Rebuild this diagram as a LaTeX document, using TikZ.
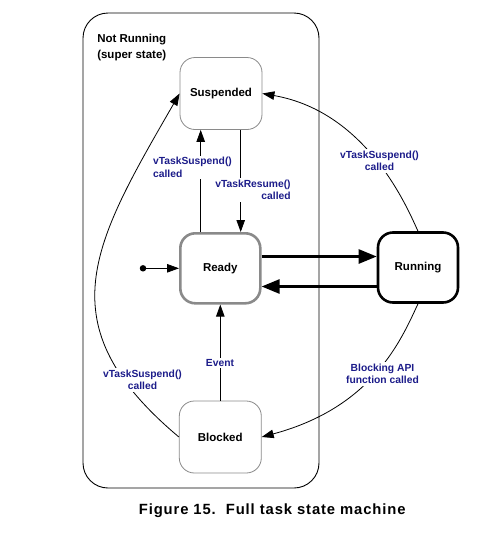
\documentclass[tikz,border=0pt]{standalone}
\usepackage{fontspec}
\setmainfont{Liberation Sans}
\usepackage{xcolor}
\usepackage{tikz}
\usetikzlibrary{arrows.meta, positioning, calc}
\definecolor{labelblue}{HTML}{1C1C8A}
\definecolor{stategray}{HTML}{8A8A8A}

\begin{document}
\begin{tikzpicture}[
    x=1pt, y=-1pt,
    state/.style={
        rectangle,
        rounded corners=15pt,
        draw=stategray,
        fill=white,
        line width=0.8pt,
        minimum width=82pt,
        minimum height=72pt,
        font=\fontsize{11.5}{14}\selectfont\bfseries
    },
    boldstate/.style={
        state,
        line width=2.6pt,
        minimum width=80pt,
        minimum height=70pt
    },
    lbl/.style={
        fill=white,
        inner sep=1.5pt,
        text=labelblue,
        font=\fontsize{10.3}{12.6}\selectfont\bfseries
    },
    thinarrow/.style={
        -{Triangle[length=12pt, width=8.5pt]},
        line width=0.8pt,
        draw=black
    },
    thickarrow/.style={
        -{Triangle[length=18pt, width=14pt]},
        line width=2.6pt,
        draw=black
    }
]
\useasboundingbox (0,0) rectangle (484,539);

% super state
\node[rectangle, rounded corners=25pt, draw=black, line width=0.9pt,
      minimum width=236pt, minimum height=475pt] (super) at (201,250.5) {};
\node[anchor=north west, inner sep=0pt, align=left,
      font=\fontsize{11.5}{15.5}\selectfont\bfseries]
      (title) at ([xshift=14.5pt,yshift=-21.5pt]super.north west) {Not Running\\(super state)};

% states
\node[state] (sus) at (221,93.5) {Suspended};
\node[boldstate, draw=stategray] (rdy) at (220.3,268.3) {Ready};
\node[boldstate, draw=black] (run) at (418,267.5) {Running};
\node[state] (blk) at (220.3,437) {Blocked};
\node[circle, fill=black, inner sep=0pt, minimum size=6.5pt] (init) at (143,268.3) {};

% transitions
\draw[thinarrow] (init) -- (rdy);
\draw[thinarrow] ([xshift=-19.6pt]rdy.north) -- ([xshift=-20.3pt]sus.south);
\draw[thinarrow] ([xshift=19.7pt]sus.south) -- ([xshift=20.4pt]rdy.north);
\draw[thinarrow] (blk.north) -- (rdy.south);
\draw[thickarrow] ([yshift=11.8pt]rdy.east) -- ([yshift=11pt]run.west);
\draw[thickarrow] ([yshift=-19pt]run.west) -- ([yshift=-18.2pt]rdy.east);
\draw[thinarrow] (run.north) to[out=115, in=-10, out distance=22pt, in distance=108pt] (sus.east);
\draw[thinarrow] (run.south) to[out=245, in=15, out distance=40pt, in distance=115pt] (blk.east);
\draw[thinarrow] (blk.west) to[out=140, in=-120, looseness=1.3] (sus.west);

% labels
\node[lbl, align=left] (l1) at (192.5,167.5) {vTaskSuspend()\\called};
\node[lbl, align=right] (l2) at (253,190) {vTaskResume()\\called};
\node[lbl, align=center] (l3) at (379.5,161) {vTaskSuspend()\\called};
\node[lbl, align=center] (l4) at (382.5,374) {Blocking API\\function called};
\node[lbl, align=center] (l5) at (142.5,380) {vTaskSuspend()\\called};
\node[lbl] (l6) at (220,363) {Event};

% caption
\node[font=\fontsize{14.8}{17}\selectfont\bfseries\addfontfeatures{LetterSpace=6}]
      (cap) at (272.2,511) {Figure 15.\ \ Full task state machine};
\end{tikzpicture}
\end{document}
